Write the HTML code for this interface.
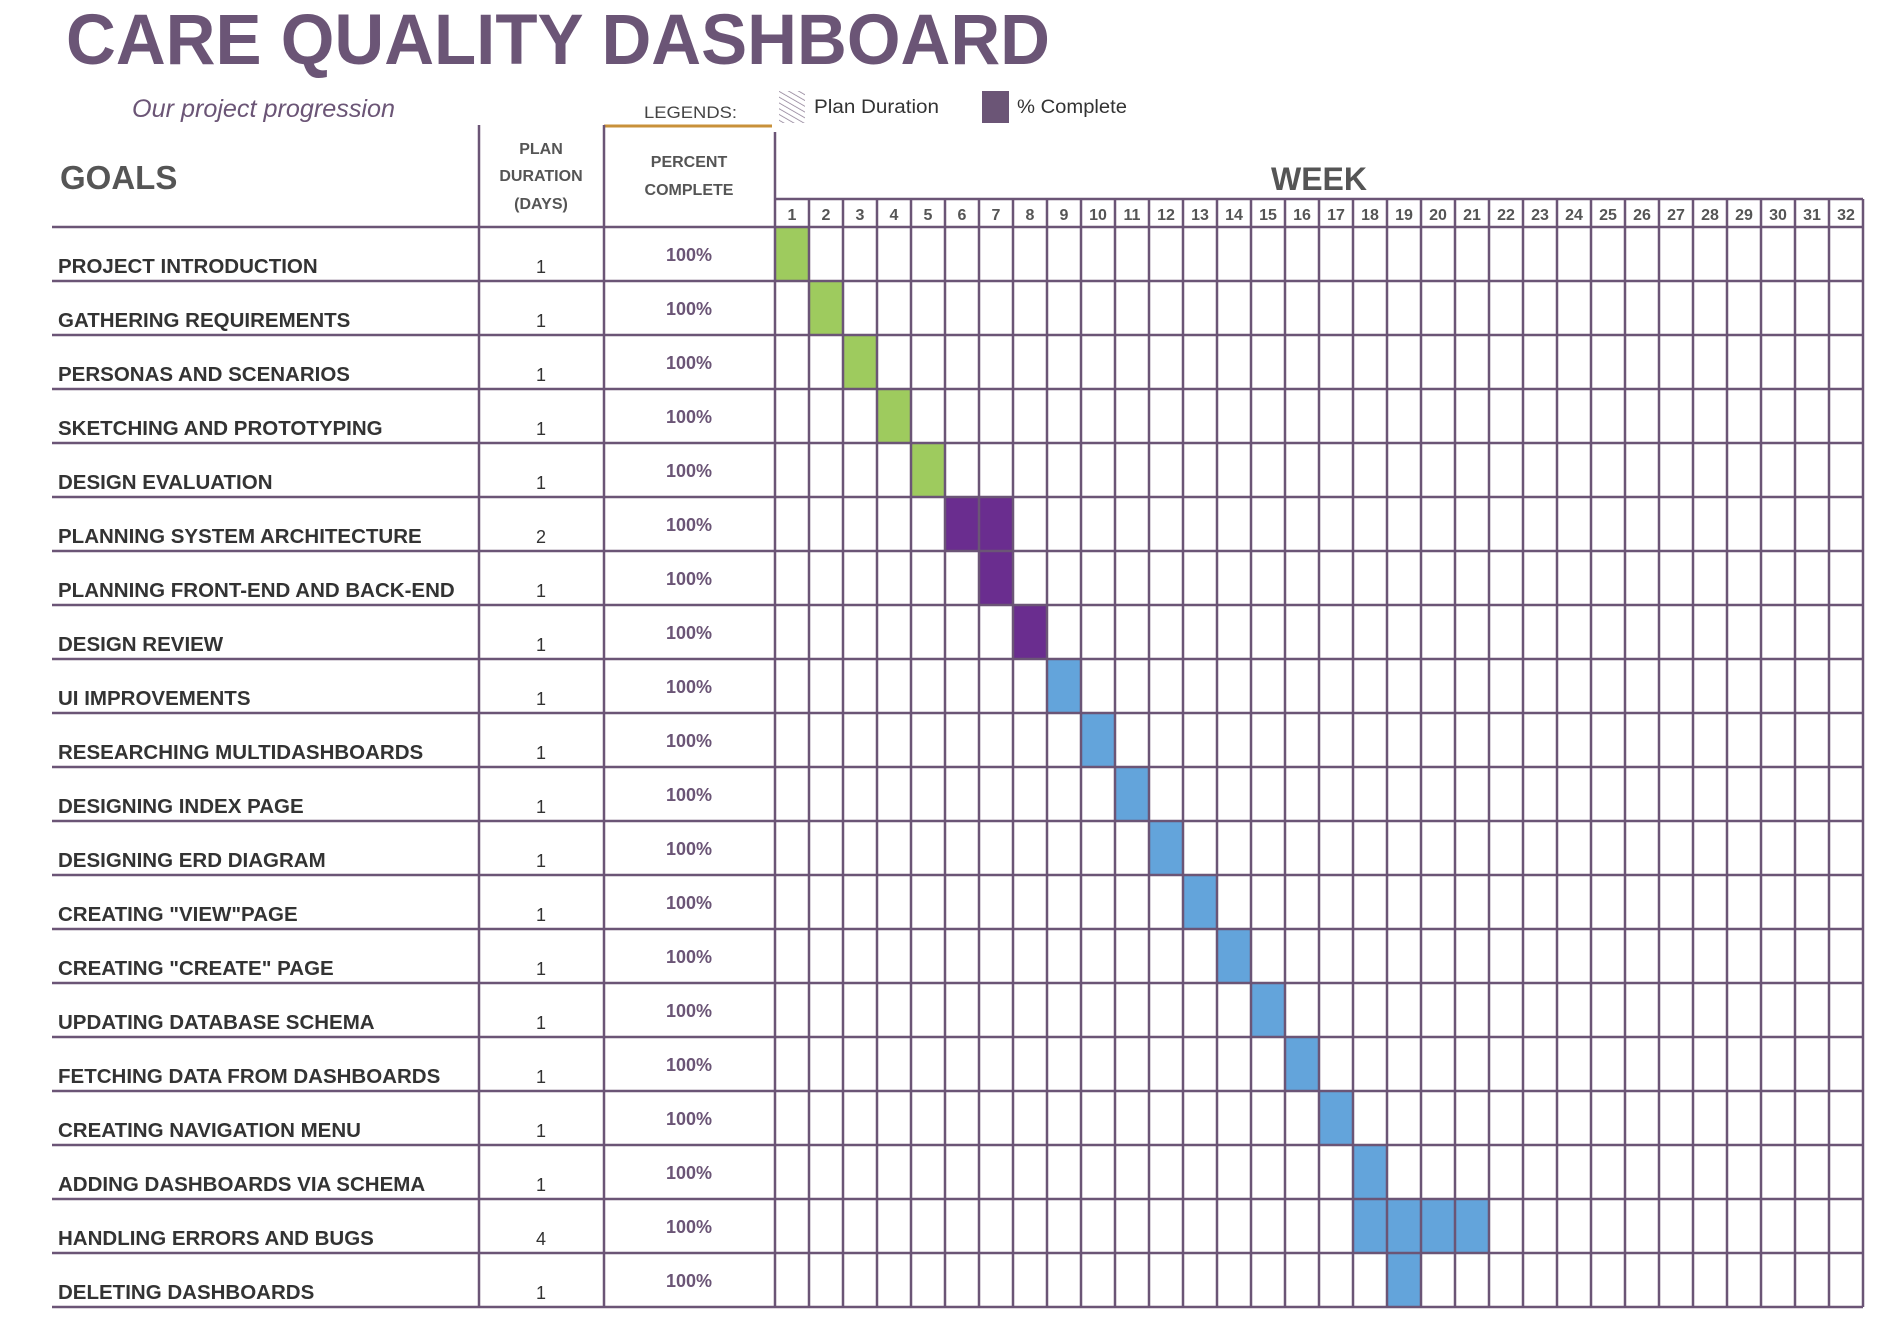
<!DOCTYPE html>
<html><head><meta charset="utf-8"><style>
html,body{margin:0;padding:0;background:#fff;}
svg{display:block;}
text{font-family:"Liberation Sans",sans-serif;}
</style></head><body>
<svg id="chart" width="1888" height="1344" viewBox="0 0 1888 1344" xmlns="http://www.w3.org/2000/svg">
<defs>
<pattern id="hatch" width="5" height="5" patternUnits="userSpaceOnUse" patternTransform="rotate(-60)">
<line x1="0" y1="0" x2="0" y2="5" stroke="#8a7a92" stroke-width="1.5"/>
</pattern>
</defs>
<text x="66" y="64" font-size="71" font-weight="bold" fill="#6b5576" textLength="984" lengthAdjust="spacingAndGlyphs">CARE QUALITY DASHBOARD</text>
<text x="132" y="117" font-size="25" font-style="italic" fill="#6b5576" textLength="263" lengthAdjust="spacingAndGlyphs">Our project progression</text>
<text x="644" y="118" font-size="17" fill="#444" textLength="93" lengthAdjust="spacingAndGlyphs">LEGENDS:</text>
<line x1="604" y1="126" x2="772" y2="126" stroke="#c8913a" stroke-width="3"/>
<rect x="779" y="91" width="26" height="32" fill="url(#hatch)"/>
<text x="814" y="113" font-size="19" fill="#333" textLength="125" lengthAdjust="spacingAndGlyphs">Plan Duration</text>
<rect x="982" y="91" width="27" height="32" fill="#6b5576"/>
<text x="1017" y="113" font-size="19" fill="#333" textLength="110" lengthAdjust="spacingAndGlyphs">% Complete</text>
<text x="60" y="189" font-size="33" font-weight="bold" fill="#555">GOALS</text>
<g font-size="16" font-weight="bold" fill="#555" text-anchor="middle">
<text x="541" y="154">PLAN</text><text x="541" y="181">DURATION</text><text x="541" y="209">(DAYS)</text>
</g>
<g font-size="16" font-weight="bold" fill="#555" text-anchor="middle">
<text x="689" y="167">PERCENT</text><text x="689" y="195">COMPLETE</text>
</g>
<text x="1319" y="190" font-size="32" font-weight="bold" fill="#555" text-anchor="middle">WEEK</text>
<g id="bars"></g>
<g id="grid"></g>
<g id="labels"></g>
</svg>
<script>
const goals = ["PROJECT INTRODUCTION","GATHERING REQUIREMENTS","PERSONAS AND SCENARIOS","SKETCHING AND PROTOTYPING","DESIGN EVALUATION","PLANNING SYSTEM ARCHITECTURE","PLANNING FRONT-END AND BACK-END","DESIGN REVIEW","UI IMPROVEMENTS","RESEARCHING MULTIDASHBOARDS","DESIGNING INDEX PAGE","DESIGNING ERD DIAGRAM","CREATING \"VIEW\"PAGE","CREATING \"CREATE\" PAGE","UPDATING DATABASE SCHEMA","FETCHING DATA FROM DASHBOARDS","CREATING NAVIGATION MENU","ADDING DASHBOARDS VIA SCHEMA","HANDLING ERRORS AND BUGS","DELETING DASHBOARDS"];
const planDuration = [1,1,1,1,1,2,1,1,1,1,1,1,1,1,1,1,1,1,4,1];
const percentComplete = [100,100,100,100,100,100,100,100,100,100,100,100,100,100,100,100,100,100,100,100];
const startWeek = [1,2,3,4,5,6,7,8,9,10,11,12,13,14,15,16,17,18,18,19];
const phase = ["g","g","g","g","g","p","p","p","b","b","b","b","b","b","b","b","b","b","b","b"];
const weeks = Array.from({length:32},(_,i)=>i+1);

const NS="http://www.w3.org/2000/svg";
const gridX0=775, colW=34, rowY0=227, rowH=54, leftX=52;
const colors={g:"#9ecb5e",p:"#6a2d8f",b:"#63a4db"};
const xWeek=w=>gridX0+(w-1)*colW;
const yRow=i=>rowY0+i*rowH;
const gridRight=xWeek(weeks.length+1);
const bottom=yRow(goals.length);
function mk(tag,attrs,parent){const e=document.createElementNS(NS,tag);for(const k in attrs)e.setAttribute(k,attrs[k]);parent.appendChild(e);return e;}
const bars=document.getElementById('bars'),grid=document.getElementById('grid'),labels=document.getElementById('labels');

goals.forEach((g,i)=>{
  const r=mk('rect',{x:xWeek(startWeek[i]),y:yRow(i),width:planDuration[i]*colW,height:rowH,fill:colors[phase[i]]},bars);
  
  
  const t=mk('text',{x:58,y:yRow(i+1)-8,'font-size':20.5,'font-weight':'bold',fill:'#333'},labels);
  t.textContent=g;
  
  
  const d=mk('text',{x:541,y:yRow(i+1)-8,'font-size':18,fill:'#333','text-anchor':'middle'},labels);
  d.textContent=planDuration[i];
  
  
  const p=mk('text',{x:689,y:yRow(i)+34,'font-size':18,'font-weight':'bold',fill:'#6b5576','text-anchor':'middle'},labels);
  p.textContent=percentComplete[i]+'%';
  
  
});
weeks.forEach(w=>{
  const t=mk('text',{x:xWeek(w)+colW/2,y:220,'font-size':16,'font-weight':'bold',fill:'#555','text-anchor':'middle'},labels);
  t.textContent=w;
  
  
});
const st={stroke:'#6b5576','stroke-width':2.5};
for(let i=0;i<=goals.length;i++){
  const l=mk('line',Object.assign({x1:leftX,x2:gridRight,y1:yRow(i),y2:yRow(i)},st),grid);
  
  
}
const wl=mk('line',Object.assign({x1:gridX0,x2:gridRight,y1:199,y2:199},st),grid);


for(let w=1;w<=weeks.length+1;w++){
  const l=mk('line',Object.assign({x1:xWeek(w),x2:xWeek(w),y1:w===1?132:199,y2:bottom},st),grid);
  
  
}
[479,604].forEach(x=>{
  const l=mk('line',Object.assign({x1:x,x2:x,y1:125,y2:bottom},st),grid);
  
  
});
</script>
</body></html>
